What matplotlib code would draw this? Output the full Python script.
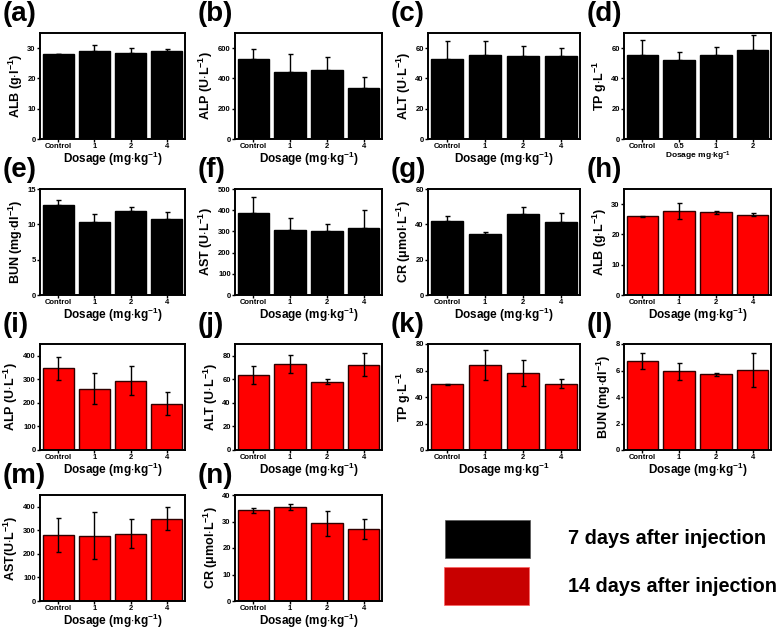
import numpy as np
import matplotlib.pyplot as plt
from matplotlib.patches import Rectangle

plt.rcParams['font.family'] = ['Liberation Sans', 'DejaVu Sans']
plt.rcParams['font.weight'] = 'bold'
plt.rcParams['mathtext.fontset'] = 'custom'
plt.rcParams['mathtext.rm'] = 'Liberation Sans:bold'
plt.rcParams['mathtext.bf'] = 'Liberation Sans:bold'
plt.rcParams['mathtext.default'] = 'bf'

doses = ['Control', '1', '2', '4']
doses_d = ['Control', '0.5', '1', '2']

# 7 days (black)
alb7 = [28.0, 29.2, 28.5, 29.1]
alb7_err = [0.2, 2.0, 1.5, 0.6]
alp7 = [530, 440, 455, 340]
alp7_err = [65, 120, 85, 70]
alt7 = [53, 55.5, 55, 54.5]
alt7_err = [12, 9.5, 6.5, 5.5]
tp7 = [55.5, 52.5, 55.5, 58.5]
tp7_err = [10, 5, 5.5, 10]
bun7 = [12.7, 10.4, 11.9, 10.8]
bun7_err = [0.8, 1.0, 0.5, 1.0]
ast7 = [385, 305, 300, 315]
ast7_err = [75, 60, 35, 88]
cr7 = [42, 34.5, 45.8, 41.5]
cr7_err = [2.5, 1.2, 4.0, 5.0]

# 14 days (red)
alb14 = [26.0, 27.8, 27.4, 26.5]
alb14_err = [0.2, 2.6, 0.5, 0.5]
alp14 = [347, 260, 295, 197]
alp14_err = [48, 65, 62, 48]
alt14 = [63.5, 73, 58, 72.5]
alt14_err = [7.5, 8, 2, 10]
tp14 = [49.5, 64, 58, 50]
tp14_err = [0.3, 11.5, 10, 3.5]
bun14 = [6.75, 5.95, 5.7, 6.05]
bun14_err = [0.6, 0.65, 0.08, 1.3]
ast14 = [280, 278, 285, 350]
ast14_err = [72, 100, 62, 48]
cr14 = [34.2, 35.5, 29.3, 27.2]
cr14_err = [1.0, 1.2, 4.8, 3.8]

dos = r'Dosage (mg$\cdot$kg$^{-1}$)'
dos2 = r'Dosage mg$\cdot$kg$^{-1}$'

# label, values, errors, ylabel, ymax, yticks, red?, xticklabels, xlabel, xlabel size
panels = [
    ('(a)', alb7, alb7_err, r'ALB (g$\cdot$l$^{-1}$)', 35, [0, 10, 20, 30], False, doses, dos, 8.5),
    ('(b)', alp7, alp7_err, r'ALP (U$\cdot$L$^{-1}$)', 700, [0, 200, 400, 600], False, doses, dos, 8.5),
    ('(c)', alt7, alt7_err, r'ALT (U$\cdot$L$^{-1}$)', 70, [0, 20, 40, 60], False, doses, dos, 8.5),
    ('(d)', tp7, tp7_err, r'TP g$\cdot$L$^{-1}$', 70, [0, 20, 40, 60], False, doses_d, dos2, 6),
    ('(e)', bun7, bun7_err, r'BUN (mg$\cdot$dl$^{-1}$)', 15, [0, 5, 10, 15], False, doses, dos, 8.5),
    ('(f)', ast7, ast7_err, r'AST (U$\cdot$L$^{-1}$)', 500, [0, 100, 200, 300, 400, 500], False, doses, dos, 8.5),
    ('(g)', cr7, cr7_err, r'CR ($\mu$mol$\cdot$L$^{-1}$)', 60, [0, 20, 40, 60], False, doses, dos, 8.5),
    ('(h)', alb14, alb14_err, r'ALB (g$\cdot$L$^{-1}$)', 35, [0, 10, 20, 30], True, doses, dos, 8.5),
    ('(i)', alp14, alp14_err, r'ALP (U$\cdot$L$^{-1}$)', 450, [0, 100, 200, 300, 400], True, doses, dos, 8.5),
    ('(j)', alt14, alt14_err, r'ALT (U$\cdot$L$^{-1}$)', 90, [0, 20, 40, 60, 80], True, doses, dos, 8.5),
    ('(k)', tp14, tp14_err, r'TP g$\cdot$L$^{-1}$', 80, [0, 20, 40, 60, 80], True, doses, dos2, 8.5),
    ('(l)', bun14, bun14_err, r'BUN (mg$\cdot$dl$^{-1}$)', 8, [0, 2, 4, 6, 8], True, doses, dos, 8.5),
    ('(m)', ast14, ast14_err, r'AST(U$\cdot$L$^{-1}$)', 450, [0, 100, 200, 300, 400], True, doses, dos, 8.5),
    ('(n)', cr14, cr14_err, r'CR ($\mu$mol$\cdot$L$^{-1}$)', 40, [0, 10, 20, 30, 40], True, doses, dos, 8.5),
]

W, H = 784, 632
fig = plt.figure(figsize=(W / 100, H / 100), dpi=100)

col_left = [40, 235, 428, 624]
col_w = [145, 147, 152, 147]
row_top = [33, 189, 344, 495]
ax_h = 106

for i, (lab, vals, errs, ylab, ymax, yt, red, xtl, xlab, xls) in enumerate(panels):
    r, c = divmod(i, 4)
    left = col_left[c]
    top = row_top[r]
    ax = fig.add_axes([left / W, 1 - (top + ax_h) / H, col_w[c] / W, ax_h / H])
    x = np.arange(len(vals))
    if red:
        ax.bar(x, vals, width=0.86, color='#ff0000', edgecolor='#300000', linewidth=1.0,
               yerr=errs, capsize=1.8, error_kw=dict(ecolor='black', elinewidth=1.0, capthick=1.0))
    else:
        ax.bar(x, vals, width=0.86, color='black', edgecolor='black', linewidth=1.0,
               yerr=[[0] * len(errs), errs], capsize=1.8,
               error_kw=dict(ecolor='black', elinewidth=1.0, capthick=1.0))
    ax.set_xlim(-0.5, 3.5)
    ax.set_ylim(0, ymax)
    ax.set_yticks(yt)
    ax.set_xticks(x)
    ax.set_xticklabels(xtl)
    ax.tick_params(axis='both', labelsize=5.5, length=2, width=1, pad=1)
    for s in ax.spines.values():
        s.set_linewidth(1.4)
    ax.set_ylabel(ylab, fontsize=9, fontweight='bold', labelpad=2)
    ax.set_xlabel(xlab, fontsize=xls, fontweight='bold', labelpad=0)
    fig.text((left - 37) / W, 1 - (top - 19) / H, lab, fontsize=20, fontweight='bold',
             ha='left', va='center')

# legend block
fig.add_artist(Rectangle((445 / W, 1 - 558 / H), 85 / W, 38 / H, transform=fig.transFigure,
                         facecolor='black', edgecolor='#555555', linewidth=0.5))
fig.add_artist(Rectangle((444 / W, 1 - 605 / H), 85 / W, 38 / H, transform=fig.transFigure,
                         facecolor='#c80000', edgecolor='#ff6060', linewidth=0.5))
fig.text(568 / W, 1 - 539 / H, '7 days after injection', fontsize=14.3, fontweight='bold',
         ha='left', va='center')
fig.text(568 / W, 1 - 586 / H, '14 days after injection', fontsize=14.3, fontweight='bold',
         ha='left', va='center')

fig.savefig('out.png', dpi=100)
